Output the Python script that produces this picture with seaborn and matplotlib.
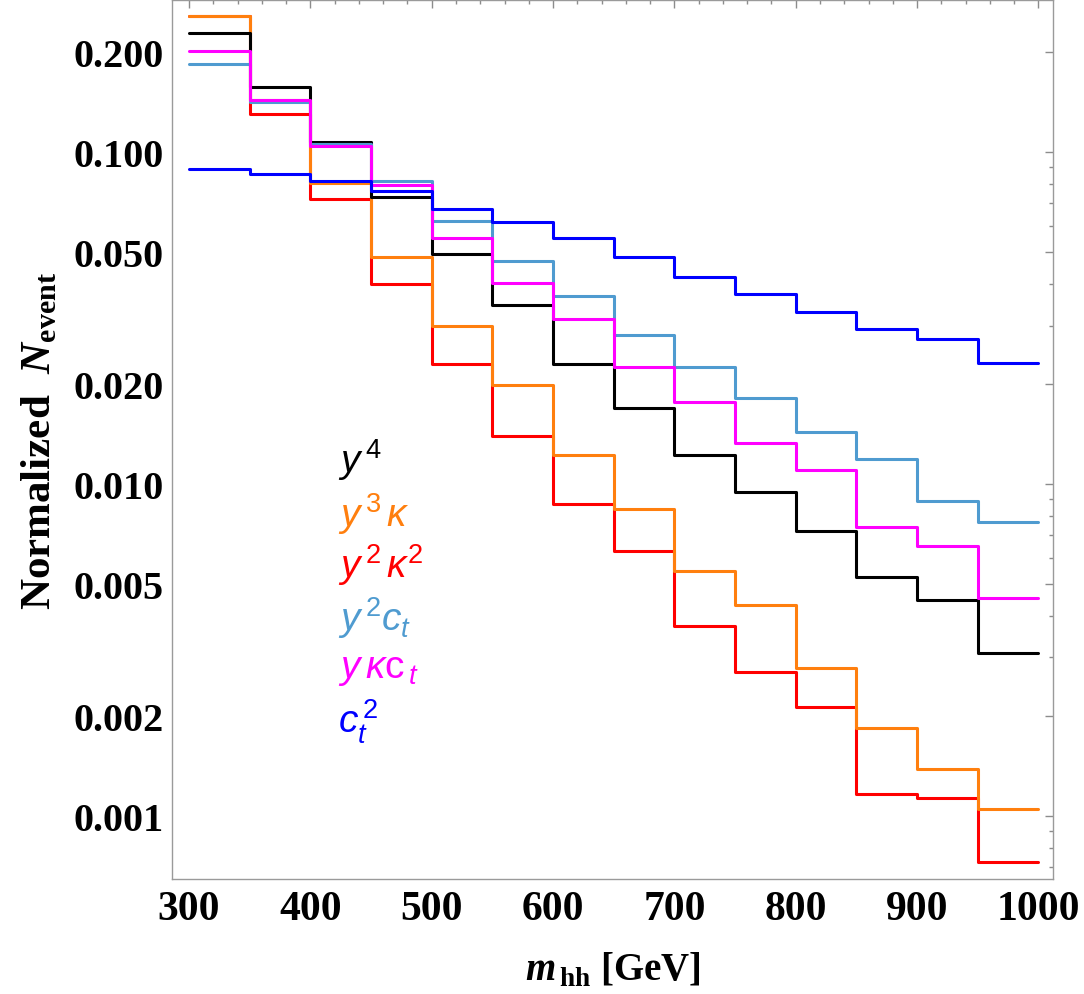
import numpy as np
import pandas as pd
import seaborn as sns
import matplotlib.pyplot as plt
from matplotlib.ticker import LogLocator, FormatStrFormatter, MultipleLocator, NullFormatter

# Data
# ===================================================
edges = [300, 350, 400, 450, 500, 550, 600, 650, 700, 750, 800, 850, 900, 950, 1000]

y4 = [0.228, 0.157, 0.1074, 0.0730, 0.0493, 0.0346, 0.0230, 0.0169, 0.01225, 0.00944, 0.0072, 0.00524, 0.00447, 0.0031]
y3k = [0.256, 0.1435, 0.0805, 0.0482, 0.0299, 0.0199, 0.01225, 0.00841, 0.00548, 0.00432, 0.00279, 0.00184, 0.001386, 0.001045]
y2k2 = [0.256, 0.130, 0.0722, 0.040, 0.0230, 0.0139, 0.0087, 0.00626, 0.00373, 0.00271, 0.00213, 0.00116, 0.00113, 0.000726]
y2ct = [0.184, 0.141, 0.106, 0.0820, 0.0621, 0.0470, 0.0368, 0.0281, 0.02256, 0.01816, 0.01437, 0.0119, 0.00887, 0.00767]
ykct = [0.201, 0.1435, 0.104, 0.0796, 0.0551, 0.0403, 0.0314, 0.0225, 0.0177, 0.01326, 0.01102, 0.0074, 0.00652, 0.00453]
ct2 = [0.0889, 0.0859, 0.082, 0.0762, 0.0673, 0.0617, 0.0551, 0.0482, 0.0421, 0.0373, 0.0329, 0.0292, 0.02733, 0.02314]

series = {'y4': y4, 'y3k': y3k, 'y2k2': y2k2, 'y2ct': y2ct, 'ykct': ykct, 'ct2': ct2}
labels = {
    'y4': r'$y^{\,4}$',
    'y3k': r'$y^{\,3}\,\kappa$',
    'y2k2': r'$y^{\,2}\,\kappa^{2}$',
    'y2ct': r'$y^{\,2}c_{t}$',
    'ykct': r'$y\,\kappa\mathrm{c}_{\,t}$',
    'ct2': r'$c_{t}^{\,2}$',
}
palette = {'y4': 'black', 'y3k': '#ff7f0e', 'y2k2': '#ff0000', 'y2ct': '#4f9bd0', 'ykct': '#ff00ff', 'ct2': '#0000ff'}

# Long-form table
centers = [(a + b) / 2 for a, b in zip(edges[:-1], edges[1:])]
df = pd.concat([pd.DataFrame({'mhh': centers, 'w': v, 'coupling': k}) for k, v in series.items()])

# Visualization
# ===================================================
sns.set_style('white')
plt.rcParams.update({
    'font.family': ['Liberation Serif', 'DejaVu Serif'],
    'text.color': 'black',
    'axes.labelcolor': 'black',
    'xtick.labelcolor': 'black',
    'ytick.labelcolor': 'black',
    'mathtext.fontset': 'custom',
    'mathtext.rm': 'Liberation Sans',
    'mathtext.it': 'Liberation Sans:italic',
    'mathtext.bf': 'Liberation Serif:bold',
    'mathtext.bfit': 'Liberation Serif:italic:bold',
})

fig = plt.figure(figsize=(10.84, 9.95), dpi=100)
ax = fig.add_axes([0.1587, 0.1156, 0.8127, 0.8834])

# Draw order: red, orange, black, light blue, magenta, blue
for key in ['y2k2', 'y3k', 'y4', 'y2ct', 'ykct', 'ct2']:
    sns.histplot(data=df[df['coupling'] == key], x='mhh', weights='w', bins=edges,
                 element='step', fill=False, color=palette[key], linewidth=2.2, ax=ax)

ax.set_yscale('log')
ax.set_xlim(286, 1012)
ax.set_ylim(0.000645, 0.287)

# Ticks
ax.xaxis.set_major_locator(MultipleLocator(100))
ax.xaxis.set_minor_locator(MultipleLocator(20))
ax.yaxis.set_major_locator(LogLocator(base=10, subs=(1.0, 2.0, 5.0)))
ax.yaxis.set_minor_locator(LogLocator(base=10, subs=(3.0, 4.0, 6.0, 7.0, 8.0, 9.0)))
ax.yaxis.set_major_formatter(FormatStrFormatter('%.3f'))
ax.yaxis.set_minor_formatter(NullFormatter())
ax.tick_params(which='both', direction='in', top=True, right=True, color='#8c8c8c', width=1)
ax.tick_params(which='major', length=6)
ax.tick_params(which='minor', length=3)
ax.tick_params(axis='x', which='major', labelsize=30, pad=8)
ax.tick_params(axis='y', which='major', labelsize=29, pad=6)
for lab in ax.get_xticklabels() + ax.get_yticklabels():
    lab.set_fontweight('bold')
for s in ax.spines.values():
    s.set_color('#9a9a9a')
    s.set_linewidth(1)

# Labels
ax.set_xlabel(r'$\mathbfit{m}_{\,\mathbf{hh}}$ [GeV]', fontsize=28, fontweight='bold', labelpad=16)
ax.set_ylabel(r'Normalized  $\mathbfit{N}_{\mathbf{event}}$', fontsize=31, fontweight='bold', labelpad=10)

# Coupling labels
baselines = [0.463, 0.402, 0.3436, 0.283, 0.230, 0.167]
for key, yb in zip(['y4', 'y3k', 'y2k2', 'y2ct', 'ykct', 'ct2'], baselines):
    ax.text(0.188, yb, labels[key], transform=ax.transAxes, color=palette[key],
            fontsize=28, fontweight='normal', va='baseline', ha='left')

plt.savefig('out.png', dpi=100)
